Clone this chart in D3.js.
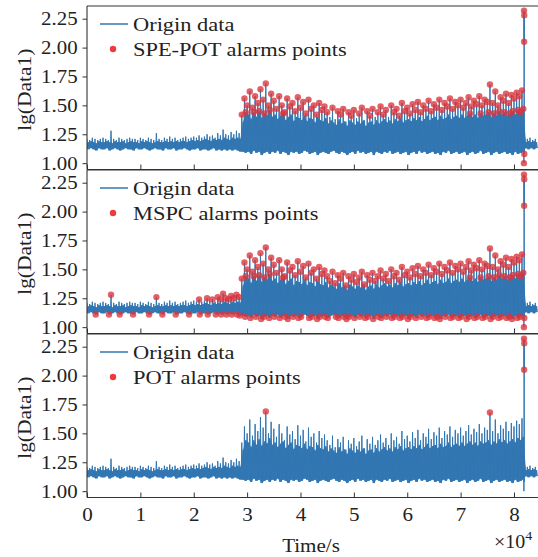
<!DOCTYPE html>
<html><head><meta charset="utf-8">
<script src="https://cdn.jsdelivr.net/npm/d3@7"></script>
<style>body{margin:0;background:#fff}svg{display:block}
text{font-family:"Liberation Serif","DejaVu Serif",serif}</style>
</head><body><svg id="c" width="538" height="557"></svg>
<script>
// ---- data ----
const binSize = 500; // seconds per bin
const hiVals = [
 1.21,1.20,1.22,1.21,1.20,1.21,1.22,1.21,1.20,1.28,
 1.21,1.20,1.22,1.21,1.20,1.21,1.22,1.21,1.21,1.20,
 1.22,1.21,1.20,1.22,1.21,1.20,1.26,1.21,1.20,1.22,
 1.21,1.23,1.21,1.22,1.20,1.21,1.22,1.23,1.21,1.22,
 1.23,1.22,1.24,1.22,1.23,1.25,1.23,1.24,1.22,1.26,
 1.24,1.29,1.25,1.24,1.27,1.25,1.28,1.26,
 1.42,1.56,
 1.50,1.62,1.48,1.58,1.52,1.64,1.55,1.69,1.50,1.60,
 1.54,1.47,1.58,1.50,1.44,1.56,1.49,1.52,1.45,1.57,
 1.48,1.53,1.43,1.55,1.47,1.50,1.42,1.52,1.46,1.49,
 1.44,1.40,1.48,1.38,1.45,1.42,1.47,1.36,1.44,1.41,
 1.46,1.39,1.43,1.48,1.37,1.45,1.41,1.47,1.40,1.44,
 1.49,1.42,1.46,1.40,1.50,1.44,1.47,1.41,1.52,1.45,
 1.48,1.43,1.51,1.46,1.53,1.44,1.50,1.47,1.54,1.45,
 1.51,1.48,1.55,1.46,1.52,1.49,1.56,1.47,1.53,1.50,
 1.55,1.48,1.52,1.57,1.49,1.54,1.51,1.58,1.50,1.55,
 1.53,1.68,1.52,1.62,1.50,1.57,1.54,1.60,1.52,1.59,
 1.56,1.61,1.58,1.63,
 1.22,1.21,1.22,1.20,1.21
];
const midVals = [
 1.18,1.19,1.18,1.17,1.19,1.18,1.18,1.19,1.18,1.17,
 1.19,1.18,1.18,1.19,1.17,1.18,1.19,1.18,1.18,1.17,
 1.19,1.18,1.19,1.18,1.17,1.18,1.19,1.18,1.18,1.19,
 1.18,1.19,1.18,1.19,1.18,1.19,1.19,1.18,1.19,1.20,
 1.19,1.20,1.19,1.20,1.21,1.20,1.19,1.21,1.20,1.21,
 1.20,1.22,1.21,1.20,1.22,1.21,1.22,1.21,
 1.36,1.44,
 1.42,1.38,1.44,1.40,1.45,1.39,1.43,1.41,1.46,1.40,
 1.42,1.38,1.41,1.43,1.37,1.40,1.42,1.36,1.40,1.39,
 1.37,1.41,1.36,1.39,1.38,1.35,1.40,1.37,1.36,1.39,
 1.34,1.37,1.35,1.33,1.38,1.34,1.36,1.32,1.37,1.35,
 1.33,1.36,1.34,1.37,1.32,1.35,1.36,1.33,1.37,1.34,
 1.36,1.38,1.35,1.37,1.34,1.38,1.36,1.39,1.35,1.37,
 1.38,1.36,1.39,1.37,1.40,1.36,1.38,1.41,1.37,1.39,
 1.40,1.37,1.41,1.38,1.39,1.42,1.38,1.40,1.41,1.39,
 1.42,1.39,1.41,1.43,1.40,1.42,1.39,1.43,1.41,1.42,
 1.44,1.40,1.43,1.41,1.45,1.42,1.44,1.41,1.43,1.45,
 1.42,1.46,1.44,1.47,
 1.18,1.19,1.18,1.19,1.18
];
const loVals = [
 1.12,1.13,1.12,1.11,1.13,1.12,1.12,1.13,1.11,1.12,
 1.13,1.12,1.11,1.12,1.13,1.12,1.12,1.11,1.13,1.12,
 1.12,1.13,1.12,1.11,1.12,1.13,1.12,1.12,1.11,1.13,
 1.12,1.12,1.13,1.11,1.12,1.12,1.13,1.12,1.11,1.12,
 1.12,1.13,1.11,1.12,1.12,1.11,1.12,1.13,1.11,1.12,
 1.11,1.12,1.11,1.12,1.11,1.12,1.11,1.10,
 1.10,1.09,1.10,1.08,1.11,1.09,1.10,1.07,1.09,1.10,
 1.08,1.10,1.09,1.11,1.08,1.10,1.09,1.07,1.10,1.09,
 1.10,1.08,1.09,1.11,1.10,1.08,1.09,1.10,1.07,1.09,
 1.10,1.09,1.08,1.10,1.11,1.09,1.08,1.10,1.09,1.07,
 1.09,1.10,1.08,1.11,1.09,1.10,1.08,1.09,1.10,1.07,
 1.10,1.09,1.08,1.10,1.09,1.11,1.08,1.09,1.10,1.08,
 1.09,1.10,1.07,1.09,1.10,1.08,1.11,1.09,1.10,1.08,
 1.09,1.10,1.08,1.09,1.07,1.10,1.09,1.11,1.08,1.09,
 1.10,1.08,1.09,1.10,1.07,1.09,1.10,1.08,1.09,1.11,
 1.08,1.09,1.10,1.07,1.09,1.10,1.08,1.09,1.10,1.08,
 1.09,1.07,1.10,1.08,1.09,1.10,
 1.13,1.12,1.13,1.12,1.13
];
const spikeTimes = [81860, 81880, 81900, 81920, 81940];
const spikeVals  = [1.00, 2.32, 2.05, 2.28, 1.08];
const xTickVals = [0,1,2,3,4,5,6,7,8];
const yTickVals = [1.00,1.25,1.50,1.75,2.00,2.25];
const lineLabel = "Origin data";
const alarmLabels = ["SPE-POT alarms points","MSPC alarms points","POT alarms points"];
// alarm rules (thresholds per method)
const speHi = 1.40, speMid = 1.42, mspcHi = 1.235, mspcLo = 1.09, mspcLoBase = 1.11, potHi = 1.66;

// ---- build series ----
const series = [];
const bins = [];
hiVals.forEach((h,i)=>{
  const t0 = i*binSize;
  bins.push({t:t0+binSize*0.5, lo:loVals[i], mid:midVals[i]});
  series.push({t:t0, v:h, kind:"hi"});
  series.push({t:t0+binSize*0.25, v:loVals[i], kind:"lo"});
  series.push({t:t0+binSize*0.5, v:midVals[i], kind:"mid"});
  series.push({t:t0+binSize*0.75, v:loVals[i], kind:"lo2"});
});
spikeTimes.forEach((t,i)=>series.push({t:t, v:spikeVals[i], kind:"spike"}));
series.sort((a,b)=>a.t-b.t);

const activeStart = 29000, activeEnd = 82000;
const inActive = d => d.t>=activeStart && d.t<activeEnd;
const alarmSets = [
  series.filter(d => d.kind==="spike" || (inActive(d) && ((d.kind==="hi" && d.v>speHi) || (d.kind==="mid" && d.v>speMid)))),
  series.filter(d => d.kind==="spike" ||
     (d.t<activeEnd && d.kind==="hi" && d.v>mspcHi) ||
     (inActive(d) && d.kind==="mid" && d.v>speMid) ||
     (inActive(d) && d.kind==="lo" && d.v<=mspcLo) ||
     (d.t<activeStart && d.kind==="lo" && d.v<=mspcLoBase)),
  series.filter(d => (d.kind==="spike" && d.v>2) || (d.kind==="hi" && d.v>potHi))
];

// ---- layout ----
const svg = d3.select("#c");
const font = '"Liberation Serif","DejaVu Serif",serif';
const left = 87, right = 538;
const panelTops = [6, 170, 334];
const panelH = 163.5;
const x = d3.scaleLinear().domain([0, 84500]).range([left, right]);
const blue = "#3176b2";
const txt = "#222";

function label(parent, tx, ty, str, size, sx, anchor){
  return parent.append("text").attr("transform",`translate(${tx},${ty}) scale(${sx},1)`)
    .attr("text-anchor",anchor||"start").style("font-family",font).style("font-size",size+"px")
    .attr("fill",txt).text(str);
}

svg.append("defs").selectAll("clipPath").data(panelTops).join("clipPath")
  .attr("id",(d,i)=>"clip"+i)
  .append("rect").attr("x",left).attr("y",d=>d).attr("width",right-left).attr("height",panelH);

panelTops.forEach((top,pi)=>{
  const bottom = top + panelH;
  const y = d3.scaleLinear().domain([0.945, 2.36]).range([bottom, top]);
  const g = svg.append("g");
  const plot = g.append("g").attr("clip-path",`url(#clip${pi})`);
  const area = d3.area().x(d=>x(d.t)).y0(d=>y(d.lo)).y1(d=>y(d.mid));
  plot.append("path").datum(bins).attr("d",area).attr("fill",blue).attr("fill-opacity",0.9);
  const line = d3.line().x(d=>x(d.t)).y(d=>y(d.v));
  plot.append("path").datum(series).attr("d",line)
    .attr("fill","none").attr("stroke",blue).attr("stroke-width",1).attr("stroke-linejoin","miter");
  plot.selectAll("circle").data(alarmSets[pi]).join("circle")
    .attr("cx",d=>x(d.t)).attr("cy",d=>y(d.v)).attr("r",3.2)
    .attr("fill","#d8343c").attr("fill-opacity",0.78);

  // y axis
  const ya = g.append("g").attr("transform",`translate(${left},0)`)
    .call(d3.axisLeft(y).tickValues(yTickVals).tickFormat(d3.format(".2f")).tickSize(4.5).tickPadding(4));
  ya.attr("font-family",null).attr("font-size",null);
  ya.select(".domain").remove();
  ya.selectAll("line").attr("stroke","#333");
  ya.selectAll("text").style("font-family",font).style("font-size","19px").attr("fill",txt)
    .attr("transform","scale(1.1,1)");
  // x axis ticks inward
  const xa = g.append("g").attr("transform",`translate(0,${bottom})`)
    .call(d3.axisBottom(x).tickValues(xTickVals.map(v=>v*1e4)).tickFormat(d=>d/1e4).tickSize(-5).tickPadding(10));
  xa.attr("font-family",null).attr("font-size",null);
  xa.select(".domain").remove();
  xa.selectAll("line").attr("stroke","#333");
  xa.selectAll("text").style("font-family",font).style("font-size","19.5px").attr("fill",txt)
    .attr("transform","scale(1.08,1)")
    .attr("opacity", pi===2?1:0);

  // frame
  const fr = [[left,top,right,top],[left,bottom,right,bottom],[left,top,left,bottom]];
  fr.forEach(f=>g.append("line").attr("x1",f[0]).attr("y1",f[1]).attr("x2",f[2]).attr("y2",f[3])
    .attr("stroke","#333").attr("stroke-width",1.1));

  // y label
  g.append("text").attr("transform",`translate(31,${top+panelH/2+2}) rotate(-90) scale(1.1,1)`)
    .attr("text-anchor","middle").style("font-family",font).style("font-size","19.5px").attr("fill",txt)
    .text("lg(Data1)");

  // legend
  g.append("line").attr("x1",100).attr("x2",128).attr("y1",top+18).attr("y2",top+18)
    .attr("stroke",blue).attr("stroke-width",1.5);
  label(g, 133, top+24.5, lineLabel, 19.5, 1.15);
  g.append("circle").attr("cx",113).attr("cy",top+43).attr("r",3.2).attr("fill","#ee3a3a");
  label(g, 133, top+49.5, alarmLabels[pi], 19.5, 1.15);
});

// x label and multiplier
label(svg, 311, 552, "Time/s", 19.5, 1.08, "middle");
const m = svg.append("text").attr("transform","translate(494,548) scale(1.08,1)").style("font-family",font).style("font-size","18.5px").attr("fill",txt);
m.append("tspan").text("×10");
m.append("tspan").attr("dy",-8).style("font-size","13px").text("4");
</script>
</body></html>
